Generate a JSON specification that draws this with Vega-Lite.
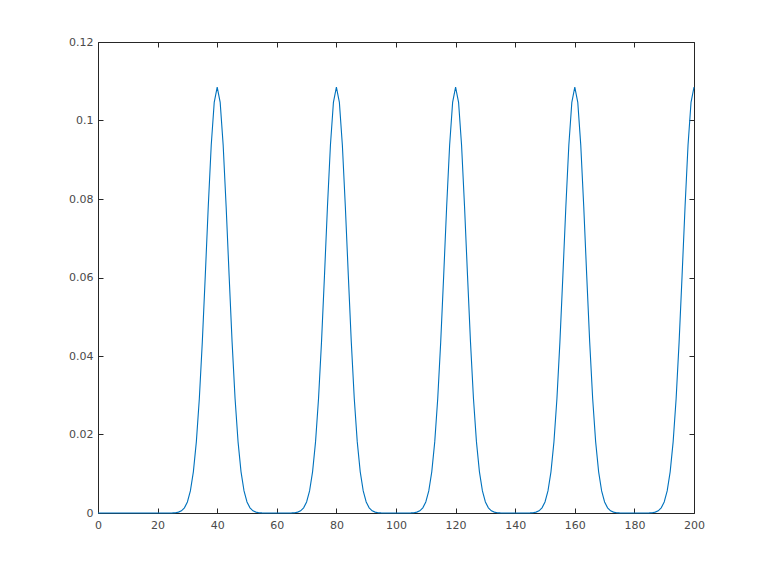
{
  "$schema": "https://vega.github.io/schema/vega-lite/v6.json",
  "width": 596,
  "height": 471,
  "autosize": "none",
  "padding": {"left": 98, "top": 42, "right": 74, "bottom": 59},
  "background": "white",
  "config": {
    "view": {"stroke": null},
    "axis": {
      "grid": false,
      "domainColor": "#262626",
      "tickColor": "#262626",
      "labelColor": "#4a4a4a",
      "labelFont": "DejaVu Sans",
      "labelFontSize": 11,
      "tickSize": -5,
      "labelPadding": 9,
      "labelFlush": false,
      "labelOverlap": false,
      "title": null
    }
  },
  "data": {"values": [
    {"x":0,"y":0},{"x":1,"y":0},{"x":2,"y":0},{"x":3,"y":0},{"x":4,"y":0},{"x":5,"y":0},{"x":6,"y":0},{"x":7,"y":0},{"x":8,"y":0},{"x":9,"y":0},
    {"x":10,"y":0},{"x":11,"y":0},{"x":12,"y":0},{"x":13,"y":0},{"x":14,"y":0},{"x":15,"y":0},{"x":16,"y":0},{"x":17,"y":0},{"x":18,"y":0},{"x":19,"y":0},
    {"x":20,"y":0},{"x":21,"y":0},{"x":22,"y":0},{"x":23,"y":0},{"x":24,"y":0.00001},{"x":25,"y":0.00003},{"x":26,"y":0.00008},{"x":27,"y":0.00023},{"x":28,"y":0.00056},{"x":29,"y":0.00131},
    {"x":30,"y":0.00281},{"x":31,"y":0.00563},{"x":32,"y":0.01048},{"x":33,"y":0.01812},{"x":34,"y":0.02913},{"x":35,"y":0.04354},{"x":36,"y":0.06048},{"x":37,"y":0.0781},{"x":38,"y":0.09375},{"x":39,"y":0.10461},
    {"x":40,"y":0.1085},{"x":41,"y":0.10461},{"x":42,"y":0.09375},{"x":43,"y":0.0781},{"x":44,"y":0.06048},{"x":45,"y":0.04354},{"x":46,"y":0.02913},{"x":47,"y":0.01812},{"x":48,"y":0.01048},{"x":49,"y":0.00563},
    {"x":50,"y":0.00281},{"x":51,"y":0.00131},{"x":52,"y":0.00056},{"x":53,"y":0.00023},{"x":54,"y":0.00008},{"x":55,"y":0.00003},{"x":56,"y":0.00001},{"x":57,"y":0},{"x":58,"y":0},{"x":59,"y":0},
    {"x":60,"y":0},{"x":61,"y":0},{"x":62,"y":0},{"x":63,"y":0},{"x":64,"y":0.00001},{"x":65,"y":0.00003},{"x":66,"y":0.00008},{"x":67,"y":0.00023},{"x":68,"y":0.00056},{"x":69,"y":0.00131},
    {"x":70,"y":0.00281},{"x":71,"y":0.00563},{"x":72,"y":0.01048},{"x":73,"y":0.01812},{"x":74,"y":0.02913},{"x":75,"y":0.04354},{"x":76,"y":0.06048},{"x":77,"y":0.0781},{"x":78,"y":0.09375},{"x":79,"y":0.10461},
    {"x":80,"y":0.1085},{"x":81,"y":0.10461},{"x":82,"y":0.09375},{"x":83,"y":0.0781},{"x":84,"y":0.06048},{"x":85,"y":0.04354},{"x":86,"y":0.02913},{"x":87,"y":0.01812},{"x":88,"y":0.01048},{"x":89,"y":0.00563},
    {"x":90,"y":0.00281},{"x":91,"y":0.00131},{"x":92,"y":0.00056},{"x":93,"y":0.00023},{"x":94,"y":0.00008},{"x":95,"y":0.00003},{"x":96,"y":0.00001},{"x":97,"y":0},{"x":98,"y":0},{"x":99,"y":0},
    {"x":100,"y":0},{"x":101,"y":0},{"x":102,"y":0},{"x":103,"y":0},{"x":104,"y":0.00001},{"x":105,"y":0.00003},{"x":106,"y":0.00008},{"x":107,"y":0.00023},{"x":108,"y":0.00056},{"x":109,"y":0.00131},
    {"x":110,"y":0.00281},{"x":111,"y":0.00563},{"x":112,"y":0.01048},{"x":113,"y":0.01812},{"x":114,"y":0.02913},{"x":115,"y":0.04354},{"x":116,"y":0.06048},{"x":117,"y":0.0781},{"x":118,"y":0.09375},{"x":119,"y":0.10461},
    {"x":120,"y":0.1085},{"x":121,"y":0.10461},{"x":122,"y":0.09375},{"x":123,"y":0.0781},{"x":124,"y":0.06048},{"x":125,"y":0.04354},{"x":126,"y":0.02913},{"x":127,"y":0.01812},{"x":128,"y":0.01048},{"x":129,"y":0.00563},
    {"x":130,"y":0.00281},{"x":131,"y":0.00131},{"x":132,"y":0.00056},{"x":133,"y":0.00023},{"x":134,"y":0.00008},{"x":135,"y":0.00003},{"x":136,"y":0.00001},{"x":137,"y":0},{"x":138,"y":0},{"x":139,"y":0},
    {"x":140,"y":0},{"x":141,"y":0},{"x":142,"y":0},{"x":143,"y":0},{"x":144,"y":0.00001},{"x":145,"y":0.00003},{"x":146,"y":0.00008},{"x":147,"y":0.00023},{"x":148,"y":0.00056},{"x":149,"y":0.00131},
    {"x":150,"y":0.00281},{"x":151,"y":0.00563},{"x":152,"y":0.01048},{"x":153,"y":0.01812},{"x":154,"y":0.02913},{"x":155,"y":0.04354},{"x":156,"y":0.06048},{"x":157,"y":0.0781},{"x":158,"y":0.09375},{"x":159,"y":0.10461},
    {"x":160,"y":0.1085},{"x":161,"y":0.10461},{"x":162,"y":0.09375},{"x":163,"y":0.0781},{"x":164,"y":0.06048},{"x":165,"y":0.04354},{"x":166,"y":0.02913},{"x":167,"y":0.01812},{"x":168,"y":0.01048},{"x":169,"y":0.00563},
    {"x":170,"y":0.00281},{"x":171,"y":0.00131},{"x":172,"y":0.00056},{"x":173,"y":0.00023},{"x":174,"y":0.00008},{"x":175,"y":0.00003},{"x":176,"y":0.00001},{"x":177,"y":0},{"x":178,"y":0},{"x":179,"y":0},
    {"x":180,"y":0},{"x":181,"y":0},{"x":182,"y":0},{"x":183,"y":0},{"x":184,"y":0.00001},{"x":185,"y":0.00003},{"x":186,"y":0.00008},{"x":187,"y":0.00023},{"x":188,"y":0.00056},{"x":189,"y":0.00131},
    {"x":190,"y":0.00281},{"x":191,"y":0.00563},{"x":192,"y":0.01048},{"x":193,"y":0.01812},{"x":194,"y":0.02913},{"x":195,"y":0.04354},{"x":196,"y":0.06048},{"x":197,"y":0.0781},{"x":198,"y":0.09375},{"x":199,"y":0.10461},
    {"x":200,"y":0.1085}
  ]},
  "layer": [
    {
      "mark": {"type": "line", "color": "#0072BD", "strokeWidth": 1.1},
      "encoding": {
        "x": {"field": "x", "type": "quantitative", "scale": {"domain": [0, 200], "nice": false, "zero": false},
              "axis": {"orient": "bottom", "values": [0,20,40,60,80,100,120,140,160,180,200], "labelExpr": "toString(datum.value)", "labelPadding": 11}},
        "y": {"field": "y", "type": "quantitative", "scale": {"domain": [0, 0.12], "nice": false},
              "axis": {"orient": "left", "values": [0,0.02,0.04,0.06,0.08,0.1,0.12], "labelExpr": "toString(datum.value)", "labelPadding": 10}}
      }
    },
    {
      "mark": {"type": "line", "strokeOpacity": 0},
      "encoding": {
        "x": {"field": "x", "type": "quantitative",
              "axis": {"orient": "top", "values": [0,20,40,60,80,100,120,140,160,180,200], "labels": false}},
        "y": {"field": "y", "type": "quantitative",
              "axis": {"orient": "right", "values": [0,0.02,0.04,0.06,0.08,0.1,0.12], "labels": false}}
      }
    }
  ]
}
